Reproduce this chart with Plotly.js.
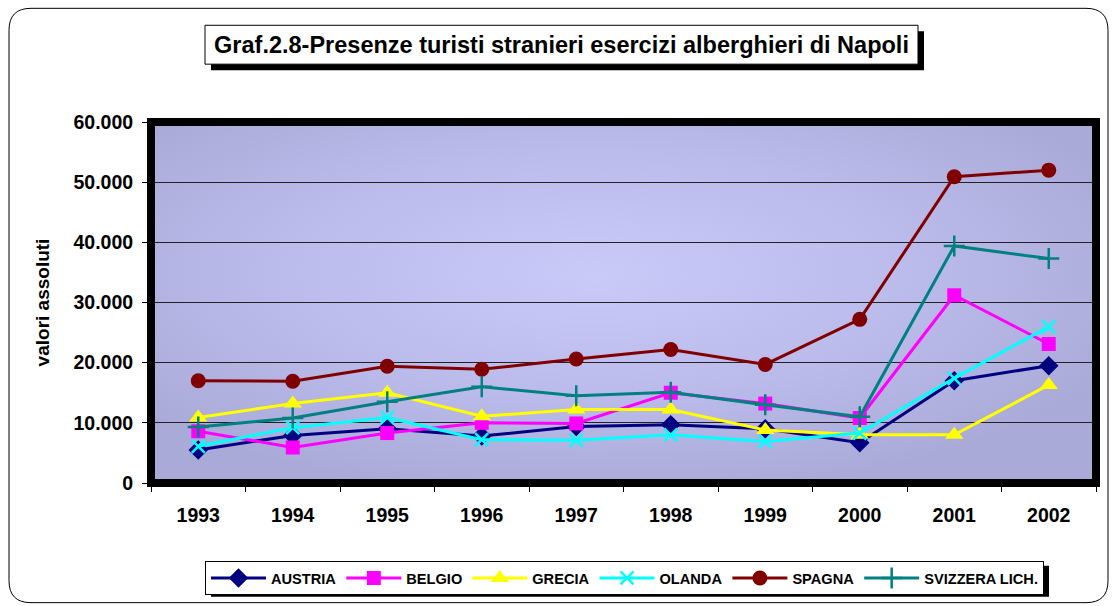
<!DOCTYPE html>
<html>
<head>
<meta charset="utf-8">
<script src="https://cdn.plot.ly/plotly-3.0.1.min.js"></script>
<style>
  html, body { margin: 0; padding: 0; background: #ffffff; }
  #chart { width: 1116px; height: 606px; }
</style>
</head>
<body>
<div id="chart"></div>
<script>
// ---- data ----
var years = ['1993', '1994', '1995', '1996', '1997', '1998', '1999', '2000', '2001', '2002'];
var austria  = [5500, 7900, 9000, 7800, 9400, 9700, 9000, 6700, 17000, 19500];
var belgio   = [8600, 5900, 8300, 10000, 9900, 15000, 13200, 10800, 31200, 23100];
var grecia   = [10900, 13200, 15000, 11100, 12200, 12200, 8800, 8000, 8000, 16300];
var olanda   = [6100, 9200, 10900, 7200, 7100, 8000, 6900, 8300, 17400, 26000];
var spagna   = [17000, 16900, 19400, 18900, 20600, 22200, 19700, 27200, 50900, 52000];
var svizzera = [9300, 10800, 13500, 16000, 14500, 15100, 13000, 11000, 39400, 37300];
var seriesNames = ['AUSTRIA', 'BELGIO', 'GRECIA', 'OLANDA', 'SPAGNA', 'SVIZZERA LICH.'];
var titleText = 'Graf.2.8-Presenze turisti stranieri esercizi alberghieri di Napoli';
var yTitleText = 'valori assoluti';

// ---- layout geometry (pixels) ----
var W = 1116, H = 606;
var L = 151, R = 20, T = 122, B = 122;
var PW = W - L - R, PH = H - T - B;
function px(x) { return (x - L) / PW; }
function py(y) { return (H - B - y) / PH; }
function pt(x, y) { return px(x).toFixed(5) + ',' + py(y).toFixed(5); }

var FONT = 'Arial, "Liberation Sans", sans-serif';

function mk(name, yv, color, symbol, size, thin) {
  var m = { symbol: symbol, size: size, color: color };
  if (thin) { m.line = { color: color, width: 2.5 }; }
  else { m.line = { width: 0 }; }
  return {
    type: 'scatter', mode: 'lines+markers', name: name,
    x: years, y: yv,
    line: { color: color, width: 3 },
    marker: m,
    hoverinfo: 'x+y+name'
  };
}

var data = [
  mk(seriesNames[0], austria,  '#000080', 'diamond', 15, false),
  mk(seriesNames[1], belgio,   '#FF00FF', 'square', 14, false),
  mk(seriesNames[2], grecia,   '#FFFF00', 'triangle-up', 16, false),
  mk(seriesNames[3], olanda,   '#00FFFF', 'x-thin', 13, true),
  mk(seriesNames[4], spagna,   '#800000', 'circle', 15, false),
  mk(seriesNames[5], svizzera, '#008080', 'cross-thin', 15, true)
];

// background gradient for plot area
var grad = '<svg xmlns="http://www.w3.org/2000/svg" width="100" height="100" preserveAspectRatio="none">' +
  '<defs><radialGradient id="g" cx="0.47" cy="0.42" r="0.62">' +
  '<stop offset="0" stop-color="#CACAF9"/><stop offset="0.55" stop-color="#BBBBEB"/><stop offset="1" stop-color="#A9AAD7"/>' +
  '</radialGradient></defs><rect width="100" height="100" fill="url(#g)"/></svg>';
var gradSrc = 'data:image/svg+xml;base64,' + btoa(grad);

// rounded outer frame
var fx0 = 9, fy0 = 8, fx1 = 1108, fy1 = 604, rr = 22;
var framePath = 'M' + pt(fx0 + rr, fy0) + ' L' + pt(fx1 - rr, fy0) +
  ' Q' + pt(fx1, fy0) + ' ' + pt(fx1, fy0 + rr) +
  ' L' + pt(fx1, fy1 - rr) + ' Q' + pt(fx1, fy1) + ' ' + pt(fx1 - rr, fy1) +
  ' L' + pt(fx0 + rr, fy1) + ' Q' + pt(fx0, fy1) + ' ' + pt(fx0, fy1 - rr) +
  ' L' + pt(fx0, fy0 + rr) + ' Q' + pt(fx0, fy0) + ' ' + pt(fx0 + rr, fy0) + ' Z';

function rect(x0, y0, x1, y1, fill, lineColor, lineWidth, layer) {
  return {
    type: 'rect', xref: 'paper', yref: 'paper',
    x0: px(x0), x1: px(x1), y0: py(y0), y1: py(y1),
    fillcolor: fill, line: { color: lineColor, width: lineWidth }, layer: layer
  };
}

var shapes = [
  { type: 'path', xref: 'paper', yref: 'paper', path: framePath, line: { color: '#000000', width: 1 }, fillcolor: 'rgba(0,0,0,0)', layer: 'below' },
  // title box with shadow
  rect(211, 31, 924, 70, '#000000', '#000000', 0, 'below'),
  rect(205, 25, 918, 64, '#FFFFFF', '#000000', 1, 'below'),
  // legend shadow
  rect(211, 567, 1049, 598, '#000000', '#000000', 0, 'below'),
  // thick plot-area frame
  rect(L, T, W - R, H - B, 'rgba(0,0,0,0)', '#000000', 8, 'above')
];

var layout = {
  width: W, height: H,
  margin: { l: L, r: R, t: T, b: B, pad: 0 },
  paper_bgcolor: '#FFFFFF',
  plot_bgcolor: 'rgba(0,0,0,0)',
  separators: ',.',
  font: { family: FONT, color: '#000000' },
  title: {
    text: titleText,
    font: { family: FONT, size: 23.5, weight: 'bold', color: '#000000' },
    x: 561.5 / W, xanchor: 'center', xref: 'container',
    y: 1 - 44.5 / H, yanchor: 'middle', yref: 'container'
  },
  xaxis: {
    type: 'category',
    range: [-0.5, 9.5],
    tickson: 'boundaries',
    ticks: 'outside', ticklen: 8, tickwidth: 1, tickcolor: '#000000',
    showgrid: false, zeroline: false, showline: false,
    tickfont: { family: FONT, size: 19.5, weight: 'bold', color: '#000000' },
    ticklabelstandoff: 18,
    fixedrange: true
  },
  yaxis: {
    range: [0, 60000],
    dtick: 10000,
    tickformat: ',d',
    ticks: 'outside', ticklen: 8, tickwidth: 1, tickcolor: '#000000',
    showgrid: true, gridcolor: '#222222', gridwidth: 1,
    zeroline: false, showline: false,
    tickfont: { family: FONT, size: 19.5, weight: 'bold', color: '#000000' },
    ticklabelstandoff: 5,
    title: { text: yTitleText, font: { family: FONT, size: 19, weight: 'bold', color: '#000000' }, standoff: 18 },
    fixedrange: true
  },
  legend: {
    orientation: 'h',
    x: px(205), xanchor: 'left',
    y: py(561), yanchor: 'top',
    bgcolor: '#FFFFFF', bordercolor: '#000000', borderwidth: 1,
    font: { family: FONT, size: 14.6, weight: 'bold', color: '#000000' },
    itemwidth: 55,
    traceorder: 'normal'
  },
  images: [{
    source: gradSrc, xref: 'paper', yref: 'paper',
    x: 0, y: 1, sizex: 1, sizey: 1, sizing: 'stretch',
    xanchor: 'left', yanchor: 'top', layer: 'below'
  }],
  shapes: shapes,
  showlegend: true
};

Plotly.newPlot('chart', data, layout, { displayModeBar: false, staticPlot: true });
</script>
</body>
</html>
